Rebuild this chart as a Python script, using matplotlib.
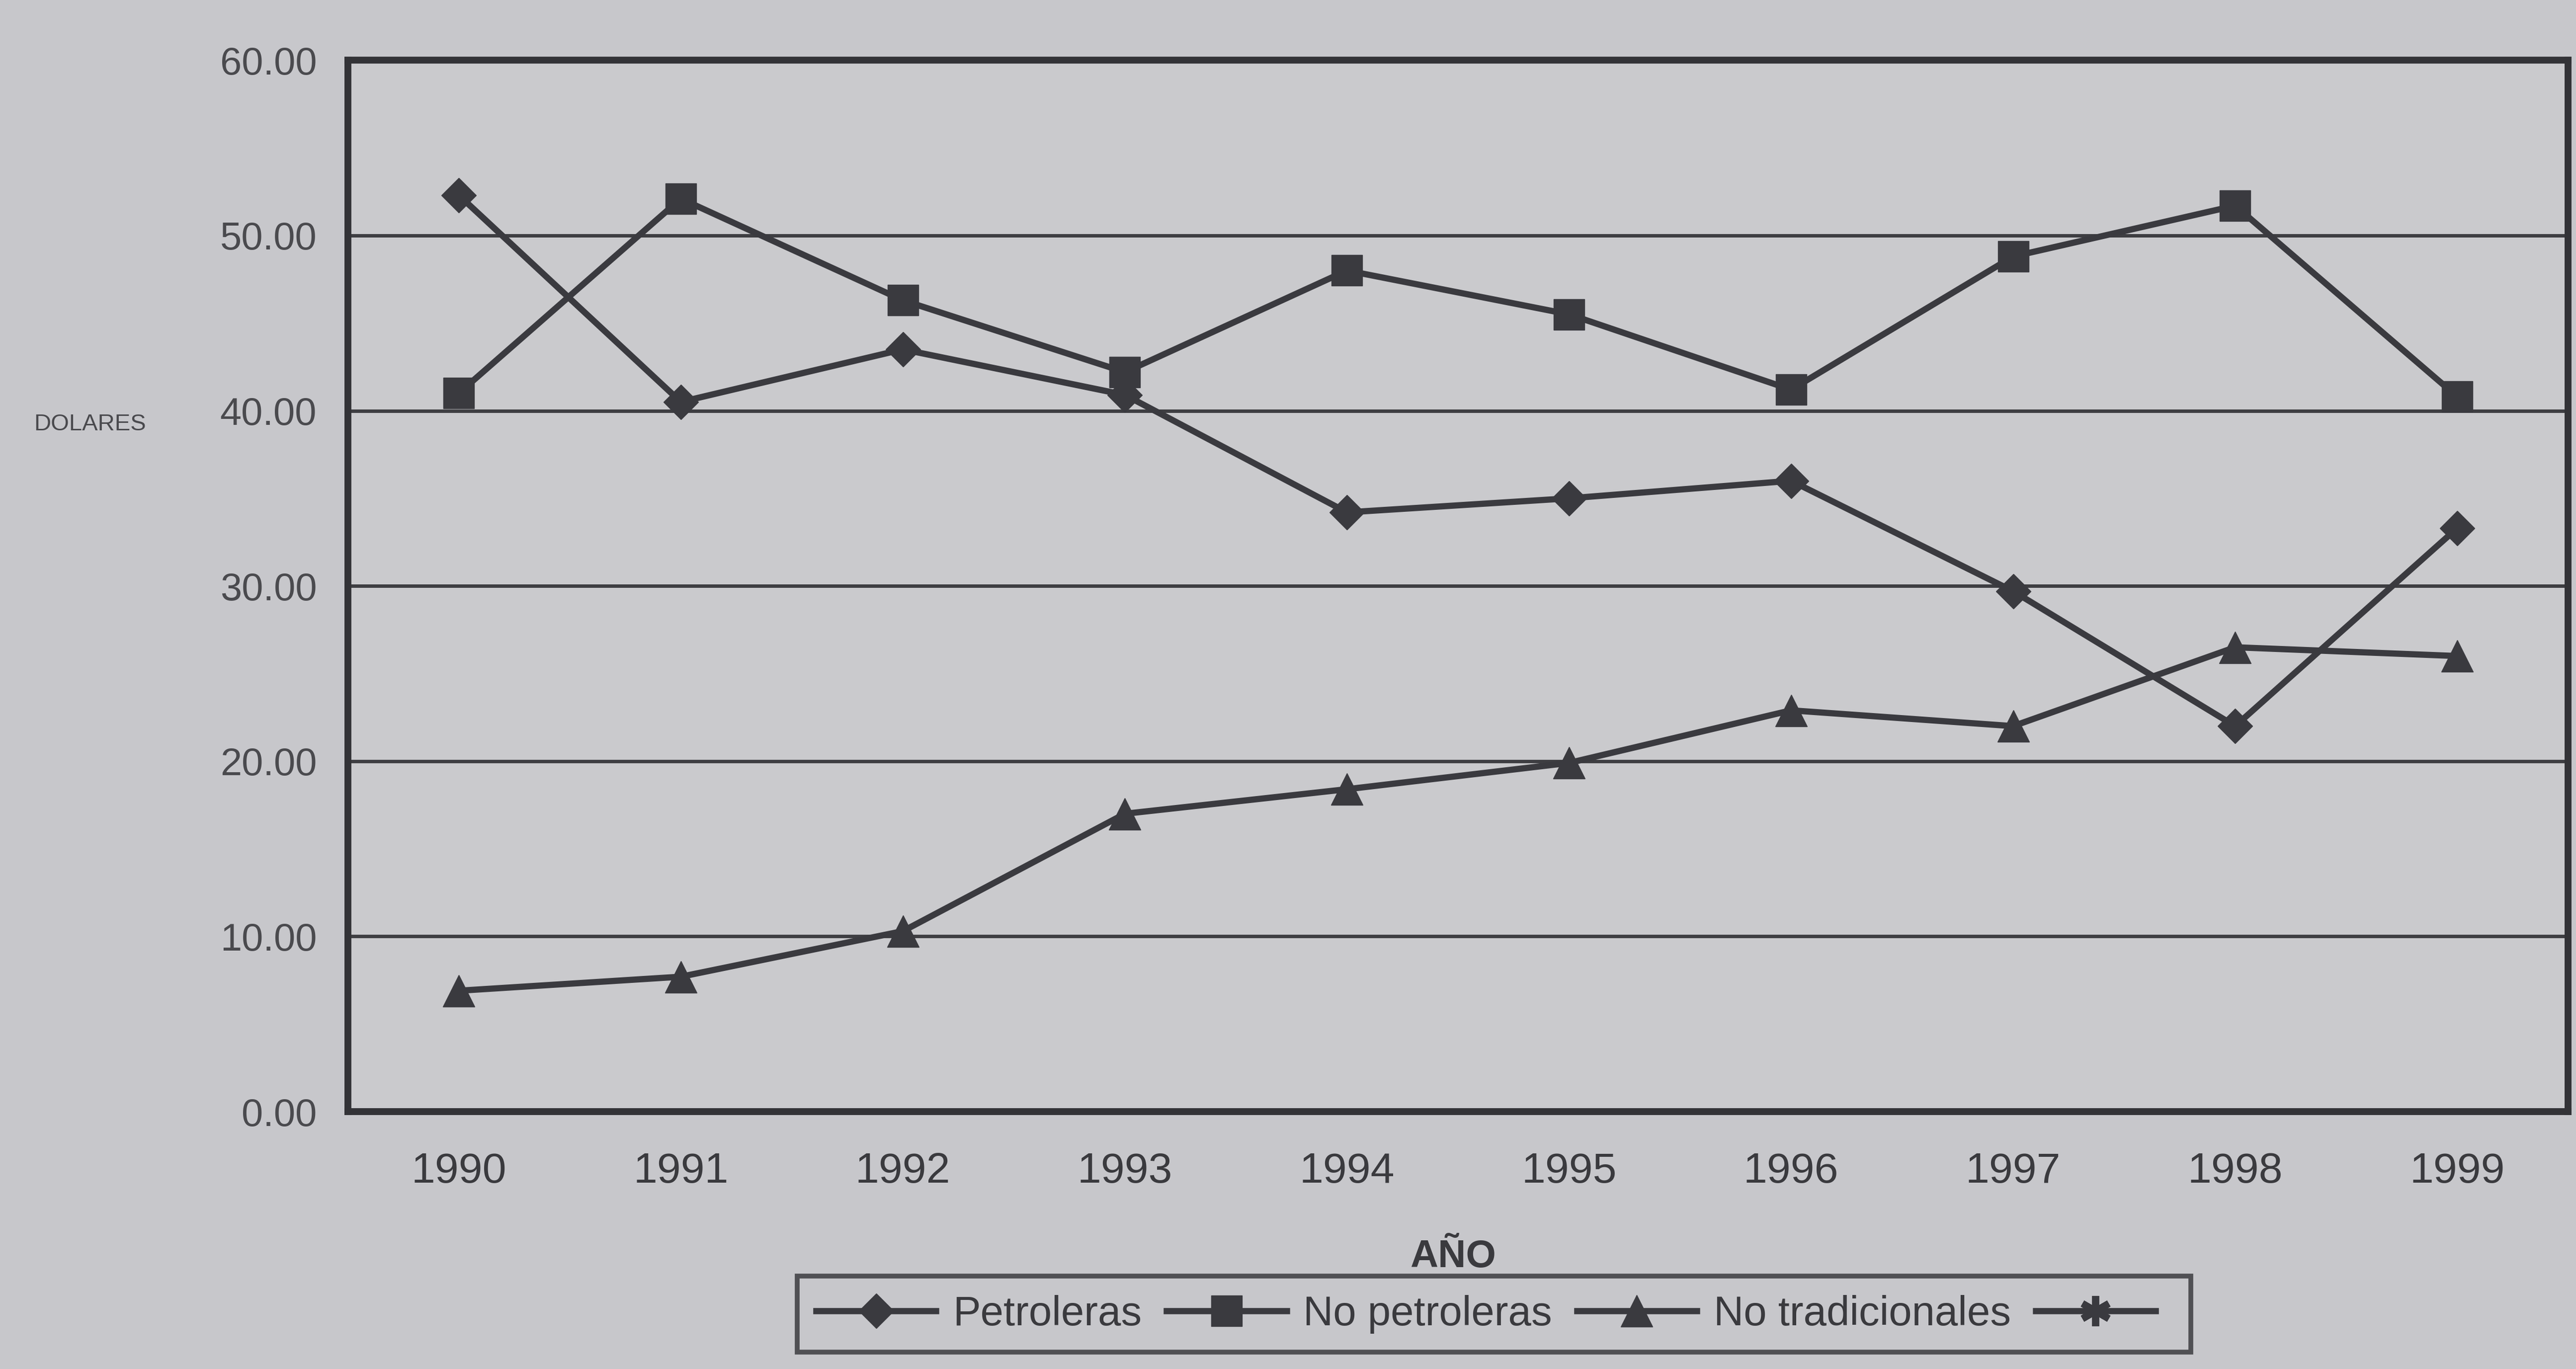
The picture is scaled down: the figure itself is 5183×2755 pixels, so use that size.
import matplotlib
matplotlib.use("Agg")
import matplotlib.pyplot as plt
from matplotlib.lines import Line2D
from matplotlib.ticker import FormatStrFormatter

years = [1990, 1991, 1992, 1993, 1994, 1995, 1996, 1997, 1998, 1999]
petroleras = [52.3, 40.5, 43.5, 40.9, 34.2, 35.0, 36.0, 29.7, 22.0, 33.3]
no_petroleras = [41.0, 52.1, 46.3, 42.2, 48.0, 45.5, 41.2, 48.8, 51.7, 40.8]
no_tradicionales = [6.9, 7.7, 10.3, 17.0, 18.4, 19.9, 22.9, 22.0, 26.5, 26.0]
series_labels = ["Petroleras", "No petroleras", "No tradicionales", ""]
y_ticks = [0, 10, 20, 30, 40, 50, 60]

plt.rcParams['font.family'] = ['Liberation Sans', 'DejaVu Sans']

bg = '#c7c7cb'
ink = '#3a3a3f'
fig = plt.figure(figsize=(51.83, 27.55), dpi=100, facecolor=bg)
ax = fig.add_axes([0.135, 0.188, 0.862, 0.768])
ax.set_facecolor('#cacacd')

lw = 9
h1, = ax.plot(years, petroleras, color=ink, lw=lw, marker='D', ms=36, mfc=ink, mec=ink)
h2, = ax.plot(years, no_petroleras, color=ink, lw=lw, marker='s', ms=44, mfc=ink, mec=ink)
h3, = ax.plot(years, no_tradicionales, color=ink, lw=lw, marker='^', ms=46, mfc=ink, mec=ink)
h4 = Line2D([], [], color=ink, lw=lw, marker=(6, 2, 0), ms=44, mew=10, mec=ink)

ax.set_xlim(1989.5, 1999.5)
ax.set_ylim(0, 60)
ax.set_yticks(y_ticks)
ax.yaxis.set_major_formatter(FormatStrFormatter('%.2f'))
ax.set_xticks(years)
ax.set_xticklabels([str(y) for y in years])
ax.tick_params(axis='y', length=0, pad=45, labelsize=56, labelcolor='#4a4a4e')
ax.tick_params(axis='x', length=0, pad=58, labelsize=62, labelcolor='#3a3a3e')
ax.grid(axis='y', color='#3e3e42', lw=5)
ax.set_axisbelow(True)
for s in ax.spines.values():
    s.set_color('#333337')
    s.set_linewidth(10)

fig.text(0.564, 0.082, "AÑO", ha='center', va='center', fontsize=56,
         fontweight='bold', color='#3a3a3e')
fig.text(0.035, 0.69, "DOLARES", ha='center', va='center', fontsize=34,
         color='#4a4a4e')

leg = fig.legend([h1, h2, h3, h4], series_labels, loc='center',
                 bbox_to_anchor=(0.580, 0.04), ncol=4, fontsize=60,
                 frameon=True, fancybox=False, handlelength=2.9,
                 columnspacing=0.6, handletextpad=0.4, borderpad=0.45)
leg.get_frame().set_edgecolor('#333337')
leg.get_frame().set_linewidth(7)
leg.get_frame().set_facecolor(bg)
for t in leg.get_texts():
    t.set_color('#3a3a3e')

fig.savefig("out.png", dpi=100, facecolor=bg)
